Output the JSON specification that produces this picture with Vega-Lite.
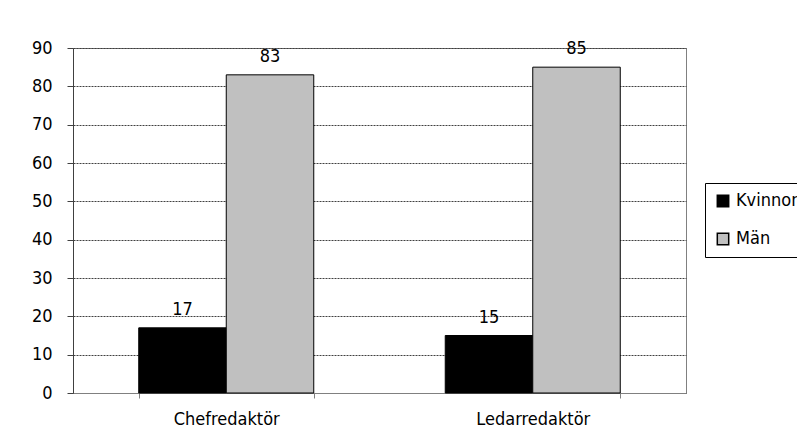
{
  "$schema": "https://vega.github.io/schema/vega-lite/v6.json",
  "width": 613,
  "height": 345,
  "autosize": {"type": "none"},
  "padding": {"left": 73, "top": 48, "right": 111, "bottom": 48},
  "background": "white",
  "config": {
    "font": "DejaVu Sans Condensed, Liberation Sans, sans-serif",
    "view": {"stroke": "#808080", "strokeWidth": 1}
  },
  "data": {
    "values": [
      {"role": "Chefredaktör", "gender": "Kvinnor", "value": 17},
      {"role": "Chefredaktör", "gender": "Män", "value": 83},
      {"role": "Ledarredaktör", "gender": "Kvinnor", "value": 15},
      {"role": "Ledarredaktör", "gender": "Män", "value": 85}
    ]
  },
  "encoding": {
    "x": {
      "field": "role", "type": "nominal", "sort": null,
      "scale": {"paddingInner": 0.429, "paddingOuter": 0.2145},
      "axis": {
        "title": null, "labelAngle": 0, "labelFontSize": 18, "labelColor": "black",
        "tickBand": "extent", "tickColor": "#808080", "tickSize": 5,
        "domainColor": "#808080", "labelPadding": 12, "grid": false
      }
    },
    "xOffset": {"field": "gender", "type": "nominal", "sort": ["Kvinnor", "Män"], "scale": {"paddingInner": 0, "paddingOuter": 0}},
    "y": {
      "field": "value", "type": "quantitative",
      "scale": {"domain": [0, 90], "nice": false},
      "axis": {
        "title": null, "values": [0,10,20,30,40,50,60,70,80,90],
        "labelFontSize": 18, "labelColor": "black", "labelPadding": 15,
        "tickColor": "#404040", "tickSize": 6, "domainColor": "#404040",
        "grid": true, "gridColor": "#404040", "gridDash": [2, 1], "gridWidth": 1
      }
    }
  },
  "layer": [
    {
      "mark": {"type": "bar", "stroke": "black", "strokeWidth": 1},
      "encoding": {
        "color": {
          "field": "gender", "type": "nominal", "sort": ["Kvinnor", "Män"],
          "scale": {"domain": ["Kvinnor", "Män"], "range": ["#000000", "#c0c0c0"]},
          "legend": {
            "title": null, "orient": "none", "legendX": 632, "legendY": 135,
            "symbolType": "square", "symbolSize": 130, "symbolStrokeColor": "black", "symbolStrokeWidth": 1.5,
            "labelFontSize": 18, "labelColor": "black", "rowPadding": 20, "labelOffset": 4,
            "strokeColor": "black", "padding": 9, "fillColor": "white"
          }
        }
      }
    },
    {
      "mark": {"type": "text", "baseline": "bottom", "dy": -9, "fontSize": 18, "color": "black"},
      "encoding": {"text": {"field": "value", "type": "quantitative"}}
    }
  ]
}
